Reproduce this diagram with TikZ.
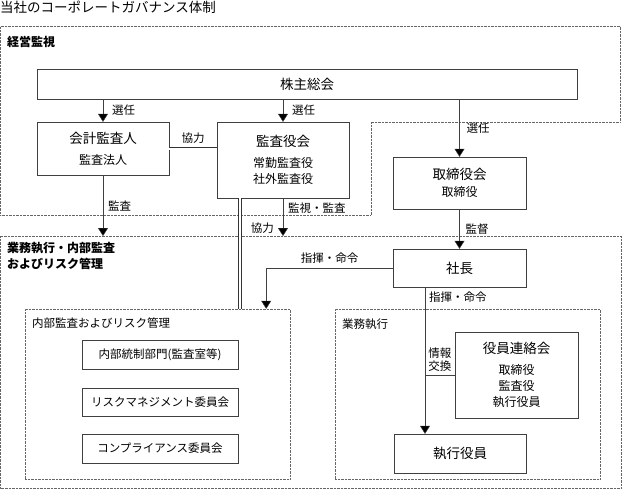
\documentclass[tikz,border=0pt]{standalone}
\usepackage{fontspec}
\setmainfont{Noto Sans CJK JP}
\usetikzlibrary{arrows.meta}

\begin{document}
\begin{tikzpicture}[x=1pt,y=-1pt,thin,
        main box/.style={draw=black!75,align=center,inner sep=0pt,font=\fontsize{12}{16}\selectfont},
        sub area/.style={draw=black!60,densely dotted,inner sep=0pt},
        big text/.style={font=\fontsize{13.5}{16}\selectfont},
        flow label/.style={font=\fontsize{11.5}{13}\selectfont,inner sep=1pt},
        area title/.style={font=\bfseries\fontsize{12}{16}\selectfont,align=left,inner sep=0pt},
        flow/.style={draw=black!75,-{Triangle[width=10pt,length=8pt,fill=black]}},
        plain/.style={draw=black!75},
        twin/.style={draw=black!80,line width=0.7pt,double=white,double distance=2pt}]
  \useasboundingbox (0,0) rectangle (623,490);
  \node[big text,anchor=west,inner sep=0pt] (title) at (0,7) {当社のコーポレートガバナンス体制};

  % regions
  \draw[sub area] (0.5,26) -- (620,26) -- (620,122) -- (371,122) -- (371,215) -- (0.5,215) -- cycle;
  \node[area title,anchor=west] (keiei) at (7,42) {経営監視};
  \draw[sub area] (0.5,236) rectangle (621,488);
  \coordinate (lowtop) at (0,236);
  \node[area title,anchor=north west] (gyomu) at (7,242) {業務執行・内部監査\\およびリスク管理};

  \node[sub area,minimum width=265pt,minimum height=170pt] (naibu) at (157.5,394) {};
  \node[flow label,anchor=west] (naibuT) at (31,323) {内部監査およびリスク管理};
  \node[sub area,minimum width=265pt,minimum height=170pt] (shikkoA) at (467.5,394) {};
  \node[flow label,anchor=west] (shikkoT) at (341,324) {業務執行};

  % boxes
  \node[main box,minimum width=540pt,minimum height=30pt] (soukai) at (307,84) {\fontsize{13.5}{16}\selectfont 株主総会};
  \node[main box,minimum width=132pt,minimum height=53pt] (kaikei) at (103,148.5)
       {\fontsize{13.5}{16}\selectfont 会計監査人\\[5pt] 監査法人};
  \node[main box,minimum width=132pt,minimum height=76pt] (kansa) at (283,160)
       {\fontsize{13.5}{16}\selectfont 監査役会\\[5pt] 常勤監査役\\ 社外監査役};
  \node[main box,minimum width=133pt,minimum height=52pt] (tori) at (459.5,183)
       {\fontsize{13.5}{16}\selectfont 取締役会\\[1pt] 取締役};
  \node[main box,minimum width=133pt,minimum height=38pt] (shacho) at (459.5,268) {\fontsize{13.5}{16}\selectfont 社長};
  \node[main box,minimum width=156pt,minimum height=29pt,font=\fontsize{11.5}{14}\selectfont] (tosei) at (160,354.5) {内部統制部門(監査室等)};
  \node[main box,minimum width=156pt,minimum height=28pt,font=\fontsize{11.5}{14}\selectfont] (risk) at (160,402) {リスクマネジメント委員会};
  \node[main box,minimum width=156pt,minimum height=29pt,font=\fontsize{11.5}{14}\selectfont] (comp) at (160,448.5) {コンプライアンス委員会};
  \node[main box,minimum width=123pt,minimum height=86pt] (renraku) at (516.5,375)
       {\fontsize{13.5}{16}\selectfont 役員連絡会\\[5pt] 取締役\\ 監査役\\ 執行役員};
  \node[main box,minimum width=132pt,minimum height=39pt] (shikko) at (460,453.5) {\fontsize{13.5}{16}\selectfont 執行役員};

  % connectors
  \coordinate (dbl) at ([xshift=23pt]kansa.south west);
  \coordinate (cmdL) at ([xshift=-24pt]naibu.north east);
  \coordinate (cmdD) at ([xshift=-34.5pt]shacho.south);
  \path[every node/.style={flow label}]
       (soukai.south -| kaikei.north) edge[flow] node[right=8pt] {選任} (kaikei.north)
       (soukai.south -| kansa.north) edge[flow] node[right=8pt] {選任} (kansa.north)
       (soukai.south -| tori.north) edge[flow] node[right=6pt] {選任} (tori.north)
       (kaikei.south) edge[flow] node[right=4pt] {監査} (kaikei.south |- lowtop)
       (kansa.south) edge[flow] node[right=4pt,pos=0.25] {監視・監査}
                                node[left=8pt,pos=0.78] {協力} (kansa.south |- lowtop)
       (tori.south) edge[flow] node[right=5pt] {監督} (shacho.north)
       (cmdD) edge[flow] node[right=3pt,pos=0.07] {指揮・命令} (cmdD |- shikko.north)
       (cmdD |- renraku.west) edge[plain] node[above=2pt,align=left] {情報\\交換} (renraku.west);
  \draw[twin] (kaikei.east) -- node[flow label,above=4pt] {協力} (kaikei.east -| kansa.west);
  \draw[twin] (dbl) -- (dbl |- naibu.north);
  \draw[flow] (shacho.west) -| node[flow label,above=3pt,pos=0.25] {指揮・命令} (cmdL);
\end{tikzpicture}
\end{document}
